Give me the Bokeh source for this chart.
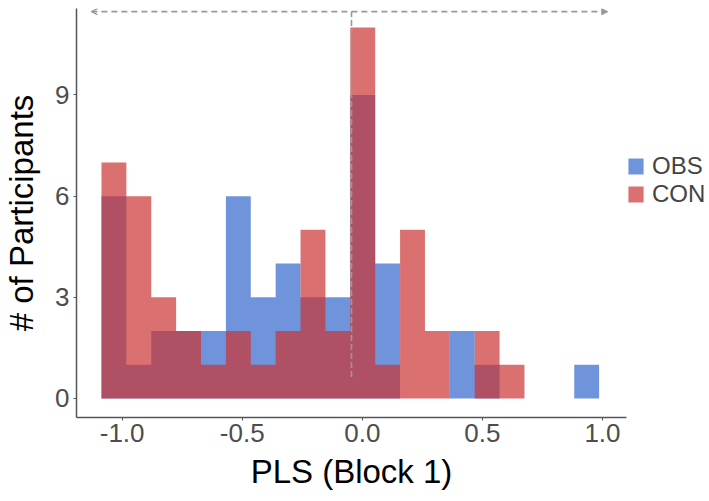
import numpy as np
from bokeh.plotting import figure
from bokeh.models import (Range1d, FixedTicker, PrintfTickFormatter, Legend,
                          LegendItem, Arrow, OpenHead, NormalHead, ColumnDataSource)
from bokeh.embed import file_html
from bokeh.resources import INLINE

# ---- data ----
bin_start = -1.086
bin_width = 0.1036
obs_counts = [6, 1, 2, 2, 2, 6, 3, 4, 3, 3, 9, 4, 0, 0, 2, 1, 0, 0, 0, 1]
con_counts = [7, 6, 3, 2, 1, 2, 1, 2, 5, 2, 11, 1, 5, 2, 0, 2, 1, 0, 0, 0]
groups = ["OBS", "CON"]
colors = ["#3366CC", "#CC3333"]
x_ticks = [-1.0, -0.5, 0.0, 0.5, 1.0]
y_ticks = [0, 3, 6, 9]
vline_x = -0.045
vline_y = [0.64, 11.47]
arrow_x = [-1.128, 1.022]
arrow_y = 11.47

FONT = "Liberation Sans"

n = len(obs_counts)
edges = bin_start + bin_width * np.arange(n + 1)

p = figure(frame_width=550, frame_height=409, output_backend="svg",
           toolbar_location=None, x_range=Range1d(-1.19, 1.10),
           y_range=Range1d(-0.564, 11.564),
           min_border_left=74, min_border_top=8, min_border_right=0,
           min_border_bottom=0)
p.outline_line_color = None
p.xgrid.visible = False
p.ygrid.visible = False
p.background_fill_color = "white"

renderers = []
for g, col, counts in zip(groups, colors, [obs_counts, con_counts]):
    heights = list(counts) + [counts[-1]]
    src = ColumnDataSource(dict(x=edges, y1=[0] * (n + 1), y2=heights))
    r = p.varea_step(x="x", y1="y1", y2="y2", step_mode="after",
                     source=src, fill_color=col, fill_alpha=0.7)
    renderers.append(r)

# dashed reference lines
p.line([vline_x, vline_x], vline_y, line_color="#999999", line_width=1.6,
       line_dash="6 3")
p.add_layout(Arrow(start=OpenHead(size=6, line_color="#999999", line_width=1.3),
                   end=NormalHead(size=6, fill_color="#999999", line_color="#999999"),
                   x_start=arrow_x[0], y_start=arrow_y, x_end=arrow_x[1], y_end=arrow_y,
                   line_color="#999999", line_width=1.6, line_dash="6 4"))

for ax in (p.xaxis[0], p.yaxis[0]):
    ax.axis_line_color = "#555555"
    ax.axis_line_width = 1.5
    ax.major_tick_line_color = "#555555"
    ax.major_tick_in = 0
    ax.major_tick_out = 3
    ax.minor_tick_line_color = None
    ax.major_label_text_font = FONT
    ax.major_label_text_font_size = "26px"
    ax.major_label_text_color = "#4d4d4d"
    ax.axis_label_text_font = FONT
    ax.axis_label_text_font_size = "33px"
    ax.axis_label_text_font_style = "normal"
    ax.axis_label_text_color = "black"

p.xaxis.ticker = FixedTicker(ticks=x_ticks)
p.xaxis.formatter = PrintfTickFormatter(format="%.1f")
p.yaxis.ticker = FixedTicker(ticks=y_ticks)
p.xaxis.axis_label = "PLS (Block 1)"
p.yaxis.axis_label = "# of Participants"
p.xaxis.major_label_standoff = 3
p.xaxis.axis_label_standoff = 8
p.yaxis.major_label_standoff = 4
p.yaxis.axis_label_standoff = 12

legend = Legend(items=[LegendItem(label=g, renderers=[r]) for g, r in zip(groups, renderers)],
                location=(0, 209), padding=0, margin=0, spacing=0,
                glyph_width=19, glyph_height=20, label_height=20, label_standoff=7,
                label_text_font=FONT, label_text_font_size="24px",
                border_line_color=None, background_fill_alpha=0)
p.add_layout(legend, "right")

open("out.html", "w").write(file_html(p, INLINE))
